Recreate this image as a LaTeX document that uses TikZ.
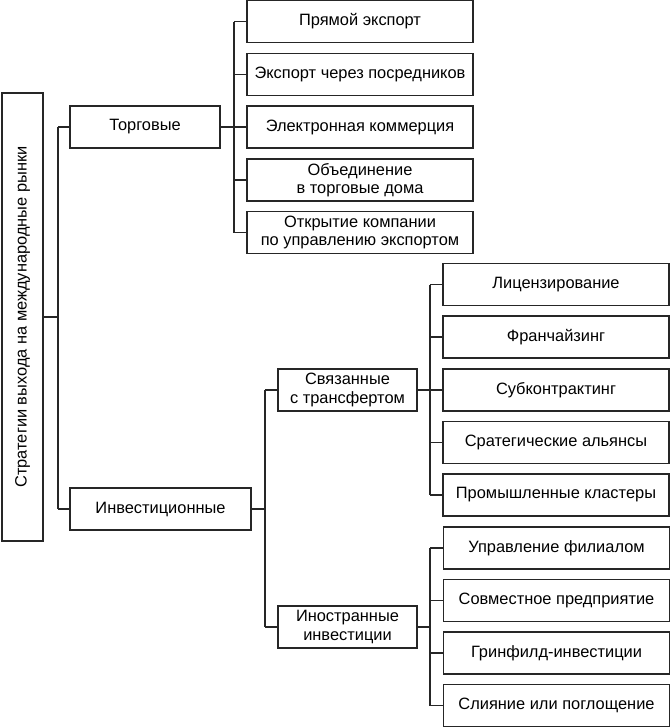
\documentclass[tikz,border=0pt]{standalone}
\usepackage{fontspec}
\setmainfont{Liberation Sans}
\usetikzlibrary{calc}

\tikzset{
  box/.style={draw=black!85, line width=0.8pt, inner sep=0.75pt, align=center,
    minimum height=31.5pt, font=\fontsize{12.3}{13.8}\selectfont},
  wide/.style={box, minimum width=169.5pt},
  link/.style={draw=black!85, line width=0.8pt}
}

\begin{document}
\begin{tikzpicture}[x=0.75pt,y=0.75pt,yscale=-1,xscale=1]
\useasboundingbox (0,0) rectangle (670,728);

% Root
\node [box, rotate=90, minimum width=336pt, minimum height=30.75pt] (root) at (22.5,317) {Стратегии выхода на международные рынки};

% Level 1
\node [box, minimum width=112.5pt] (torg) at (145,127) {Торговые};
\node [box, minimum width=135.75pt] (inv) at (160.5,509) {Инвестиционные};

% Level 2
\node [box, minimum width=104.25pt] (svyaz) at (347.5,390) {Связанные\\с трансфертом};
\node [box, minimum width=104.25pt] (inostr) at (347.5,627) {Иностранные\\инвестиции};

% Trade branch
\node [wide] (t1) at (360,21.5) {Прямой экспорт};
\node [wide] (t2) at (360,74.5) {Экспорт через посредников};
\node [wide] (t3) at (360,127) {Электронная коммерция};
\node [wide] (t4) at (360,180) {Объединение\\в торговые дома};
\node [wide] (t5) at (360,232.5) {Открытие компании\\по управлению экспортом};

% Transfer branch
\node [wide] (s1) at (556,284.5) {Лицензирование};
\node [wide] (s2) at (556,337) {Франчайзинг};
\node [wide] (s3) at (556,390) {Субконтрактинг};
\node [wide] (s4) at (556,442.5) {Сратегические альянсы};
\node [wide] (s5) at (556,495) {Промышленные кластеры};

% Foreign investment branch
\node [wide] (f1) at (556.5,548) {Управление филиалом};
\node [wide] (f2) at (556.5,600.5) {Совместное предприятие};
\node [wide] (f3) at (556.5,653) {Гринфилд-инвестиции};
\node [wide] (f4) at (556.5,705.5) {Слияние или поглощение};

% Bus lines
\coordinate (b0) at (58,0);
\coordinate (b1) at (234,0);
\coordinate (b2) at (265,0);
\coordinate (b3) at (430,0);

\draw [link] (root.south) -- (root.south -| b0);
\draw [link] (torg.west -| b0) -- (inv.west -| b0);
\draw [link] (torg.west) -- (torg.west -| b0);
\draw [link] (inv.west) -- (inv.west -| b0);

\draw [link] (torg.east) -- (torg.east -| b1);
\draw [link] (t1.west -| b1) -- (t5.west -| b1);
\foreach \n in {t1,t2,t3,t4,t5}
  \draw [link] (\n.west) -- (\n.west -| b1);

\draw [link] (inv.east) -- (inv.east -| b2);
\draw [link] (svyaz.west -| b2) -- (inostr.west -| b2);
\draw [link] (svyaz.west) -- (svyaz.west -| b2);
\draw [link] (inostr.west) -- (inostr.west -| b2);

\draw [link] (svyaz.east) -- (svyaz.east -| b3);
\draw [link] (s1.west -| b3) -- (s5.west -| b3);
\foreach \n in {s1,s2,s3,s4,s5}
  \draw [link] (\n.west) -- (\n.west -| b3);

\draw [link] (inostr.east) -- (inostr.east -| b3);
\draw [link] (f1.west -| b3) -- (f4.west -| b3);
\foreach \n in {f1,f2,f3,f4}
  \draw [link] (\n.west) -- (\n.west -| b3);

\end{tikzpicture}
\end{document}
